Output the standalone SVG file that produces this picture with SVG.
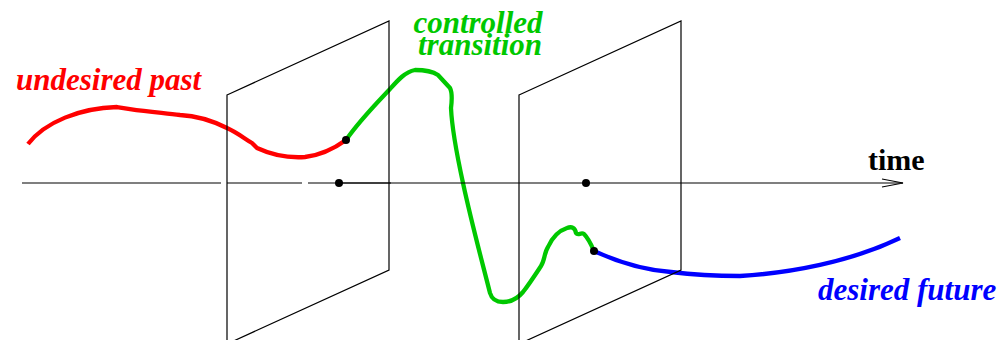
<svg xmlns="http://www.w3.org/2000/svg" width="999" height="340" viewBox="0 0 999 340">
<style>
.curve{fill:none;stroke-width:4.3;stroke-linecap:butt;stroke-linejoin:round}
.plane{fill:none;stroke:#000;stroke-width:1.2}
.axis{fill:none;stroke:#000;stroke-width:1.2}
.lbl{font-family:"Liberation Serif","Times New Roman",serif;font-weight:bold;font-style:italic;font-size:31px}
.dot{fill:#000}
</style>
<rect width="999" height="340" fill="#fff"/>
<g id="connectors">
<path id="past" class="curve" stroke="#ff0000" d="M28,144 C45,122 80,108 117,107 L130,109 C150,112 165,113 180,115 C200,116 215,122 227,128 C238,133 245,139 252,143 L257,148 C272,155 290,158 305,157 C322,155 335,148 346,140"/>
<path id="transition" class="curve" stroke="#00c800" d="M346,140 C360,120 375,105 390,89 C398,80 405,72 415,70 C425,70 432,71 438,75 L450,88 C452,92 452,100 451,108 C452,130 458,160 463,183 C472,225 483,265 490,293 C492,300 497,302 503,302 C512,302 518,298 523,292 C530,283 537,272 541,266 C545,260 544,253 548,247 C552,238 558,231 567,228 C572,226 575,228 576,233 C578,236 581,232 584,234 C588,238 591,244 594,251"/>
<path id="future" class="curve" stroke="#0000ff" d="M594,251 C620,263 645,270 671,272 C695,275 715,276 740,276 C790,273 850,262 900,238"/>
</g>
<g id="plane1">
<polygon class="plane" points="227,95 389,21 389,270 227,344"/>
</g>
<g id="plane2">
<polygon class="plane" points="519,95 681,21 681,270 519,344"/>
</g>
<g id="time-axis">
<path class="axis" d="M22,183 H221 M227,183 H302 M308,183 H903"/>
<path class="axis" stroke-width="2" d="M339,183 H391"/>
<path class="axis" d="M882,179 L903,183 L882,187"/>
<text x="868" y="170" font-family="'Liberation Serif','Times New Roman',serif" font-weight="bold" font-size="30" fill="#000">time</text>
</g>
<g id="points">
<circle class="dot" cx="339" cy="183" r="4"/>
<circle class="dot" cx="586" cy="183" r="4"/>
<circle class="dot" cx="346" cy="140" r="4"/>
<circle class="dot" cx="594" cy="251" r="4"/>
</g>
<g id="labels">
<text class="lbl" x="16" y="90" fill="#ff0000">undesired past</text>
<text class="lbl" x="478" y="33" fill="#00c800" text-anchor="middle">controlled</text>
<text class="lbl" x="480" y="55" fill="#00c800" text-anchor="middle">transition</text>
<text class="lbl" x="818" y="300" fill="#0000ff">desired future</text>
</g>
</svg>
